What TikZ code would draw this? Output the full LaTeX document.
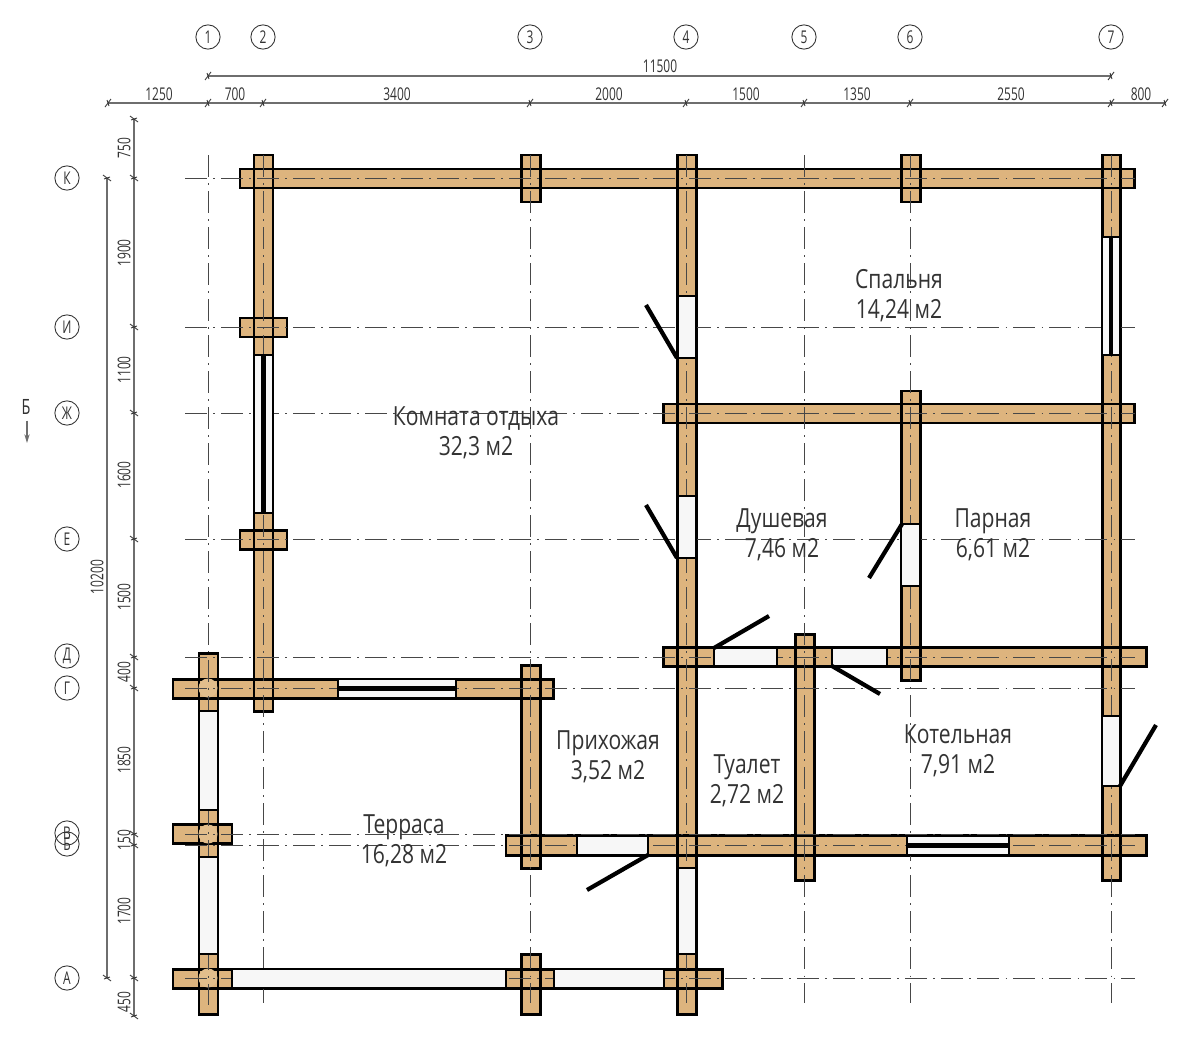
\documentclass[tikz,border=0pt]{standalone}
\usepackage{fontspec}
\usetikzlibrary{arrows.meta}
\setmainfont[FakeStretch=0.68]{Open Sans}
\newfontfamily\roomfont[FakeStretch=0.80]{Open Sans}
\definecolor{wood}{HTML}{DDB47E}
\definecolor{woodl}{HTML}{E2BE8C}
\definecolor{glass}{HTML}{F7F7F7}
\definecolor{dimc}{HTML}{6E6E6E}
\definecolor{txt}{HTML}{333333}
\tikzset{
  axisln/.style={draw=black!72,line width=0.5pt,dash pattern=on 12.4pt off 3.6pt on 0.9pt off 3.6pt},
  dimln/.style={draw=dimc,line width=0.6pt},
  tickln/.style={draw=black!80,line width=0.5pt},
  beamfill/.style={fill=wood,draw=none},
  beamline/.style={draw=black,line width=1.7pt},
  opening/.style={fill=glass,draw=black,line width=1.5pt},
  leaf/.style={draw=black,line width=2.4pt},
  sash/.style={draw=black,line width=2.6pt},
  knot/.style={fill=woodl,draw=none},
  bubble/.style={circle,draw=black!80,line width=0.5pt,minimum size=13.8pt,inner sep=0pt,font=\fontsize{10}{10}\selectfont,text=txt},
  room/.style={align=center,font=\roomfont\fontsize{15}{17}\selectfont,text=txt},
  dimtxt/.style={font=\fontsize{10}{10}\selectfont,text=txt},
  secmark/.style={font=\fontsize{12}{12}\selectfont,text=txt}
}
\begin{document}
\begin{tikzpicture}[x=0.02cm,y=-0.02cm]
\useasboundingbox (0,0) rectangle (1200,1041);
\fill[white] (0,0) rectangle (1200,1041);
% beams: fill first, outlines after
\def\beams{240/169/1134/188,254/155/273/711,521/155/540/202,677/155/696/1014,901/155/920/202,1102/155/1120/880,240/318/287/337,240/530/287/549,663/404/1134/423,901/391/920/680,663/647/1146/666,795/634/814/880,173/679/553/698,199/653/218/1014,521/665/540/868,506/835/1146/855,173/824/232/843,173/969/722/988,521/954/540/1014}
\foreach \a/\b/\c/\d in \beams {\path[beamfill] (\a,\b) rectangle (\c,\d);}
\foreach \a/\b/\c/\d in \beams {\path[beamline] (\a,\b) rectangle (\c,\d);}
% knots
\foreach \y in {688,834,978} {\path[knot] (208,\y) circle (9.5);}
% axes
\foreach \x/\t/\e in {208/155/652,263/155/1003,530/155/1003,686/155/1003,804/155/1003,910/155/1003,1111/155/1003}
  {\draw[axisln] (\x,\t) -- (\x,\e);}
\foreach \y in {178,327,413,539,657,688,834,845,978}
  {\draw[axisln] (185,\y) -- (1135,\y);}
\draw[axisln] (208,660) -- (208,1005);
% openings cover the axes
\foreach \a/\b/\c/\d in {678/296/696/358,678/496/696/558,678/868/696/954,1102/716/1120/786,901/524/920/586,714/648/777/666,832/648/887/666,577/836/648/855,199/711/218/810,199/857/218/954,232/969/506/988,554/969/664/988,254/355/273/513,1102/237/1120/355,338/679/456/698,907/836/1009/855}
  {\path[opening] (\a,\b) rectangle (\c,\d);}
% window sashes
\draw[sash] (263.5,355) -- (263.5,513);
\draw[sash] (1111,237) -- (1111,355);
\draw[sash] (338,688.5) -- (456,688.5);
\draw[sash] (907,845.5) -- (1009,845.5);
% door leaves
\draw[leaf] (646,305) -- (677,358);
\draw[leaf] (646,505) -- (677,558);
\draw[leaf] (902,524) -- (869,578);
\draw[leaf] (714,648) -- (769,616);
\draw[leaf] (832,666) -- (880,694);
\draw[leaf] (648,855) -- (587,890);
\draw[leaf] (1120,786) -- (1156,725);
% dimension lines
\coordinate (t1) at (208,76); \coordinate (t7) at (1111,76);
\coordinate (b0) at (108,103); \coordinate (b8) at (1165,103);
\coordinate (v0) at (134,119); \coordinate (v1) at (134,1016);
\coordinate (w0) at (107,178); \coordinate (w1) at (107,978);
\draw[dimln] (t1) -- (t7);
\draw[dimln] (b0) -- (b8);
\draw[dimln] (v0) -- (v1);
\draw[dimln] (w0) -- (w1);
\foreach \x/\y in {208/76,1111/76,108/103,208/103,263/103,530/103,686/103,804/103,910/103,1111/103,1165/103}
  {\draw[tickln] (\x-3,\y+4) -- (\x+3,\y-4) (\x-1,\y-3) -- (\x+1,\y+3);}
\foreach \x/\y in {134/119,134/178,134/327,134/413,134/539,134/657,134/688,134/834,134/845,134/978,134/1016,107/178,107/978}
  {\draw[tickln] (\x-4,\y-3) -- (\x+4,\y+3) (\x-3,\y+1) -- (\x+3,\y-1);}
% top bubbles
\foreach \n/\x in {1/208,2/263,3/530,4/686,5/804,6/910,7/1111}
  {\node[bubble] (ax\n) at (\x,37) {\n};}
% left bubbles
\node[bubble] (ayK) at (67,178) {К};
\node[bubble] (ayI) at (67,327) {И};
\node[bubble] (ayZ) at (67,413) {Ж};
\node[bubble] (ayE) at (67,539) {Е};
\node[bubble] (ayD) at (67,656) {Д};
\node[bubble] (ayG) at (67,688) {Г};
\node[bubble] (ayV) at (67,833) {В};
\node[bubble] (ayB) at (67,844) {Б};
\node[bubble] (ayA) at (67,978) {А};
% horizontal dimension texts
\node[dimtxt] (d11500) at (660,66) {11500};
\node[dimtxt] (d1250) at (159,94) {1250};
\node[dimtxt] (d700) at (235,94) {700};
\node[dimtxt] (d3400) at (397,94) {3400};
\node[dimtxt] (d2000) at (609,94) {2000};
\node[dimtxt] (d1500) at (746,94) {1500};
\node[dimtxt] (d1350) at (857,94) {1350};
\node[dimtxt] (d2550) at (1011,94) {2550};
\node[dimtxt] (d800) at (1141,94) {800};
% vertical dimension texts
\foreach \n/\y in {750/148,1900/253,1100/370,1600/475,1500/597,400/672,1850/760,150/840,1700/911,450/1002}
  {\node[dimtxt,rotate=90] (dv\n) at (124,\y) {\n};}
\node[dimtxt,rotate=90] (d10200) at (97,577) {10200};
% section mark
\node[secmark] (secB) at (26,407) {Б};
\coordinate (secA) at (27,443);
\draw[dimln,-{Stealth[length=5pt,width=3pt,open]}] (secB.south -| secA) -- (secA);
% rooms
\node[room] (r1) at (899,296) {Спальня\\14,24 м2};
\node[room] (r2) at (476,433) {Комната отдыха\\32,3 м2};
\node[room] (r3) at (782,535) {Душевая\\7,46 м2};
\node[room] (r4) at (993,535) {Парная\\6,61 м2};
\node[room] (r5) at (608,757) {Прихожая\\3,52 м2};
\node[room] (r6) at (747,781) {Туалет\\2,72 м2};
\node[room] (r7) at (958,751) {Котельная\\7,91 м2};
\node[room] (r8) at (404,841) {Терраса\\16,28 м2};
\end{tikzpicture}
\end{document}
